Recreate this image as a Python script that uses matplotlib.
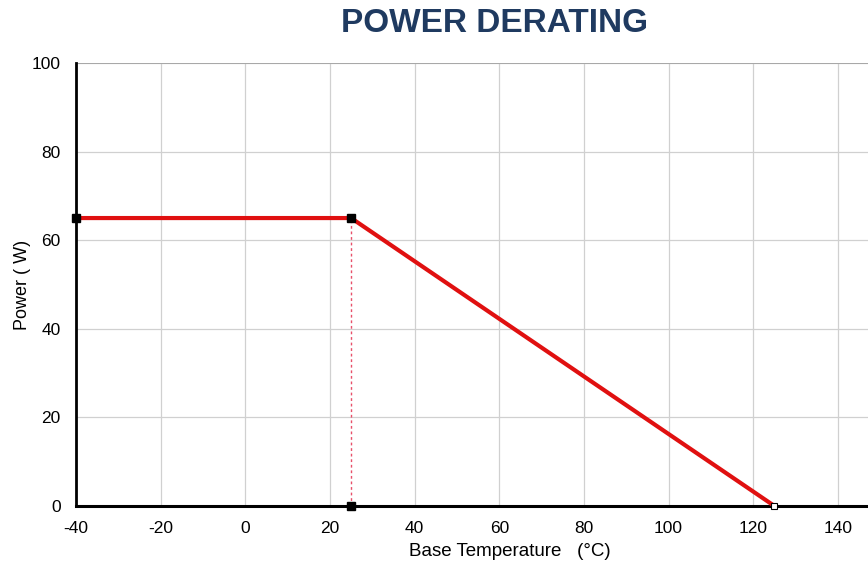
import matplotlib.pyplot as plt

plt.rcParams['font.family'] = ['Liberation Sans', 'DejaVu Sans']
plt.rcParams['axes.unicode_minus'] = False

# derating curve points
temp = [-40, 25, 125]
power = [65, 65, 0]
# marker points
solid_x = [-40, 25, 25]
solid_y = [65, 65, 0]
open_x = [125]
open_y = [0]

x_ticks = [-40, -20, 0, 20, 40, 60, 80, 100, 120, 140]
y_ticks = [0, 20, 40, 60, 80, 100]

fig = plt.figure(figsize=(8.68, 5.64), dpi=100)
ax = fig.add_axes([76 / 868, 58 / 564, 1 - 76 / 868, 443 / 564])

ax.set_xlim(-40, -40 + (868 - 76) / 4.233)
ax.set_ylim(0, 100)
ax.set_xticks(x_ticks)
ax.set_yticks(y_ticks)
ax.grid(True, color='#d0d0d0', linewidth=0.9)
ax.set_axisbelow(True)

for s in ['top', 'right']:
    ax.spines[s].set_visible(False)
ax.spines['left'].set_linewidth(2)
ax.spines['bottom'].set_linewidth(2.2)
ax.tick_params(length=0, labelsize=12.5)
ax.tick_params(axis='x', pad=11)
ax.tick_params(axis='y', pad=11)
ax.axhline(100, color='#a0a0a0', linewidth=1.2, zorder=1)

# dotted drop line at the knee
ax.plot([25, 25], [0, 65], color='#e8506a', linestyle=(0, (2, 2)), linewidth=1.0, zorder=2)
ax.plot(temp, power, color='#e01010', linewidth=3, zorder=3, clip_on=False)
ax.plot(solid_x, solid_y, 's', color='black', markersize=6, zorder=4, clip_on=False)
ax.plot(open_x, open_y, 's', markerfacecolor='white', markeredgecolor='black',
        markersize=5, markeredgewidth=0.8, zorder=4, clip_on=False)

ax.set_xlabel('Base Temperature   (°C)', fontsize=13.5, va='center')
ax.xaxis.set_label_coords((510 - 76) / 792, -(551 - 506) / 443)
ax.set_ylabel('Power ( W)', fontsize=13, va='center')
ax.yaxis.set_label_coords((22 - 76) / 792, 0.5)

fig.text(495 / 868, 1 - 23 / 564, 'POWER DERATING', ha='center', va='center',
         fontsize=24, fontweight='bold', color='#1f3a60')

fig.savefig('out.png', dpi=100)
